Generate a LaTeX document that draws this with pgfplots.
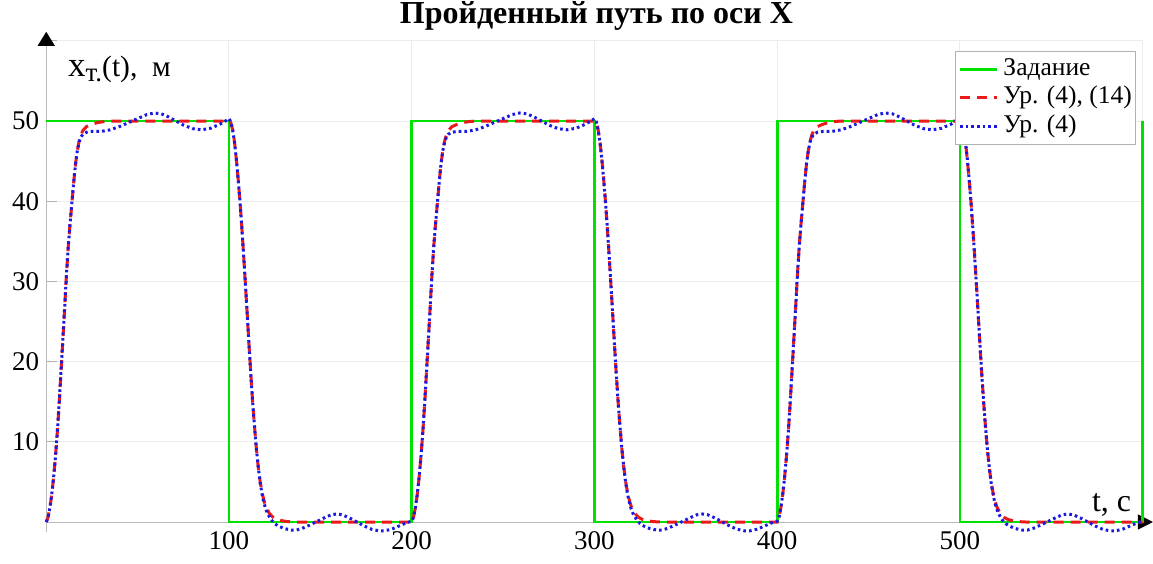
\documentclass[border=0pt]{standalone}
\usepackage{fontspec}
\setmainfont{Liberation Serif}
\usepackage{pgfplots}
\pgfplotsset{compat=1.18}
\usetikzlibrary{arrows.meta}

\definecolor{setgreen}{RGB}{0,225,0}
\definecolor{eqred}{RGB}{235,25,25}
\definecolor{eqblue}{RGB}{25,25,225}

\begin{document}
\begin{tikzpicture}
\begin{axis}[
  at={(46.25pt,41pt)}, anchor=south west,
  scale only axis, width=1096.5pt, height=481.2pt,
  xmin=0, xmax=600, ymin=0, ymax=60,
  clip=false,
  axis x line=bottom, axis y line=left,
  x axis line style={draw=gray!55, line width=1pt,
    -{Triangle[length=15pt,width=15pt,color=black]}, shorten >=-10.25pt},
  y axis line style={draw=gray!55, line width=1pt,
    -{Triangle[length=14pt,width=17pt,color=black]}, shorten >=-9pt, shorten <=-10pt},
  grid=major,
  major grid style={draw=gray!15, line width=1pt},
  tick align=inside,
  major tick length=11pt,
  tick style={draw=gray!60, line width=1pt},
  xtick={100,200,300,400,500,600},
  xticklabels={100,200,300,400,500,{}},
  ytick={10,20,30,40,50,60},
  yticklabels={10,20,30,40,50,{}},
  /pgf/number format/assume math mode=true,
  ticklabel style={font=\fontsize{27}{27}\selectfont},
  yticklabel style={xshift=-3.5pt},
  xticklabel style={yshift=-6.5pt},
  title={Пройденный путь по оси X},
  title style={at={(0.5,1)}, anchor=base, yshift=11.8pt, xshift=2pt,
    font=\bfseries\fontsize{32}{32}\selectfont},
  xlabel={t, с},
  every axis x label/.style={at={(axis cs:572.2,1.25)}, anchor=base west,
    inner sep=0pt, font=\fontsize{32}{32}\selectfont},
  ylabel={{\fontsize{35}{35}\selectfont x}\raisebox{-5.7pt}{\fontsize{27}{27}\selectfont т.}(t),\ \ м},
  every axis y label/.style={at={(axis cs:11.9,55.6)}, anchor=base west,
    inner sep=0pt, font=\fontsize{29.5}{29.5}\selectfont},
  legend style={at={(0.8288,0.9794)}, anchor=north west,
    draw=gray!60, line width=1pt, fill=white,
    font=\fontsize{25.5}{25.5}\selectfont, inner xsep=3pt, inner ysep=5pt,
    row sep=2.5pt,
    nodes={inner xsep=0.5pt, inner ysep=1pt, text height=18pt, text depth=6pt}},
  legend cell align=left,
  legend image code/.code={\draw[#1] (0pt,0pt) -- (37pt,0pt); \path (41.5pt,0pt);},
]

% set point (step signal)
\addplot[setgreen, line width=2.6pt] coordinates {
  (0,50)(100,50)(100,0)(200,0)(200,50)(300,50)(300,0)(400,0)(400,50)(500,50)(500,0)(600,0)(600,50)
};
\addlegendentry{Задание}

% response, equations (4) and (14)
\addplot[eqred, line width=3pt, dash pattern=on 10pt off 7pt] coordinates {
  (0,0)(1,0.6)(2,1.8)(3,3.4)(4,5.5)(5,8.0)(6,11.0)(7,14.5)(8,18.4)(9,22.4)(10,26.4)(11,30.6)(12,34.2)(13,37.1)(14,39.7)(15,42.3)(16,44.6)(17,46.3)(18,47.5)(19,48.3)(20,48.8)(22,49.3)(25,49.6)(28,49.8)(32,49.95)(36,50)(100,50)
  (101,49.8)(102,48.9)(103,47.4)(104,45.3)(105,42.8)(106,40.0)(107,36.8)(108,33.3)(109,29.6)(110,25.8)(111,21.9)(112,18.2)(113,14.8)(114,11.8)(115,9.1)(116,6.9)(117,5.1)(118,3.8)(119,2.8)(120,2.0)(122,1.1)(124,0.6)(126,0.35)(128,0.2)(132,0.05)(136,0)(200,0)
  (201,0.6)(202,1.8)(203,3.4)(204,5.5)(205,8.0)(206,11.0)(207,14.5)(208,18.4)(209,22.4)(210,26.4)(211,30.6)(212,34.2)(213,37.1)(214,39.7)(215,42.3)(216,44.6)(217,46.3)(218,47.5)(219,48.3)(220,48.8)(222,49.3)(225,49.6)(228,49.8)(232,49.95)(236,50)(300,50)
  (301,49.8)(302,48.9)(303,47.4)(304,45.3)(305,42.8)(306,40.0)(307,36.8)(308,33.3)(309,29.6)(310,25.8)(311,21.9)(312,18.2)(313,14.8)(314,11.8)(315,9.1)(316,6.9)(317,5.1)(318,3.8)(319,2.8)(320,2.0)(322,1.1)(324,0.6)(326,0.35)(328,0.2)(332,0.05)(336,0)(400,0)
  (401,0.6)(402,1.8)(403,3.4)(404,5.5)(405,8.0)(406,11.0)(407,14.5)(408,18.4)(409,22.4)(410,26.4)(411,30.6)(412,34.2)(413,37.1)(414,39.7)(415,42.3)(416,44.6)(417,46.3)(418,47.5)(419,48.3)(420,48.8)(422,49.3)(425,49.6)(428,49.8)(432,49.95)(436,50)(500,50)
  (501,49.8)(502,48.9)(503,47.4)(504,45.3)(505,42.8)(506,40.0)(507,36.8)(508,33.3)(509,29.6)(510,25.8)(511,21.9)(512,18.2)(513,14.8)(514,11.8)(515,9.1)(516,6.9)(517,5.1)(518,3.8)(519,2.8)(520,2.0)(522,1.1)(524,0.6)(526,0.35)(528,0.2)(532,0.05)(536,0)(600,0)
};
\addlegendentry{Ур. (4), (14)}

% response, equation (4) only
\addplot[eqblue, line width=3pt, dash pattern=on 2.6pt off 3.1pt] coordinates {
  (0,0)(1,0.6)(2,1.8)(3,3.4)(4,5.5)(5,8.0)(6,11.0)(7,14.5)(8,18.4)(9,22.4)(10,26.4)(11,30.6)(12,34.2)(13,37.1)(14,39.7)(15,42.3)(16,44.6)(17,46.3)(18,47.4)(19,48.0)(20,48.35)(22,48.6)(25,48.7)(30,48.7)(35,48.9)(40,49.3)(45,49.8)(50,50.3)(55,50.8)(59,51.0)(63,50.9)(67,50.5)(71,50.0)(75,49.5)(80,49.05)(85,48.9)(90,49.1)(95,49.6)(98,50.0)(100,50.3)
  (101,49.9)(102,48.9)(103,47.4)(104,45.3)(105,42.8)(106,40.0)(107,36.8)(108,33.3)(109,29.6)(110,25.8)(111,21.9)(112,18.2)(113,14.8)(114,11.8)(115,9.1)(116,6.9)(117,5.0)(118,3.6)(119,2.5)(120,1.7)(121,1.1)(123,0.3)(125,-0.2)(127,-0.5)(130,-0.8)(134,-1.0)(137,-1.0)(140,-0.8)(144,-0.4)(148,0.05)(152,0.5)(156,0.9)(159,1.0)(162,0.9)(166,0.5)(170,0.0)(174,-0.5)(178,-0.9)(182,-1.1)(185,-1.1)(189,-0.9)(193,-0.5)(197,-0.1)(200,0.1)
  (201,0.6)(202,1.8)(203,3.4)(204,5.5)(205,8.0)(206,11.0)(207,14.5)(208,18.4)(209,22.4)(210,26.4)(211,30.6)(212,34.2)(213,37.1)(214,39.7)(215,42.3)(216,44.6)(217,46.3)(218,47.4)(219,48.0)(220,48.35)(222,48.6)(225,48.7)(230,48.7)(235,48.9)(240,49.3)(245,49.8)(250,50.3)(255,50.8)(259,51.0)(263,50.9)(267,50.5)(271,50.0)(275,49.5)(280,49.05)(285,48.9)(290,49.1)(295,49.6)(298,50.0)(300,50.3)
  (301,49.9)(302,48.9)(303,47.4)(304,45.3)(305,42.8)(306,40.0)(307,36.8)(308,33.3)(309,29.6)(310,25.8)(311,21.9)(312,18.2)(313,14.8)(314,11.8)(315,9.1)(316,6.9)(317,5.0)(318,3.6)(319,2.5)(320,1.7)(321,1.1)(323,0.3)(325,-0.2)(327,-0.5)(330,-0.8)(334,-1.0)(337,-1.0)(340,-0.8)(344,-0.4)(348,0.05)(352,0.5)(356,0.9)(359,1.0)(362,0.9)(366,0.5)(370,0.0)(374,-0.5)(378,-0.9)(382,-1.1)(385,-1.1)(389,-0.9)(393,-0.5)(397,-0.1)(400,0.1)
  (401,0.6)(402,1.8)(403,3.4)(404,5.5)(405,8.0)(406,11.0)(407,14.5)(408,18.4)(409,22.4)(410,26.4)(411,30.6)(412,34.2)(413,37.1)(414,39.7)(415,42.3)(416,44.6)(417,46.3)(418,47.4)(419,48.0)(420,48.35)(422,48.6)(425,48.7)(430,48.7)(435,48.9)(440,49.3)(445,49.8)(450,50.3)(455,50.8)(459,51.0)(463,50.9)(467,50.5)(471,50.0)(475,49.5)(480,49.05)(485,48.9)(490,49.1)(495,49.6)(498,50.0)(500,50.3)
  (501,49.9)(502,48.9)(503,47.4)(504,45.3)(505,42.8)(506,40.0)(507,36.8)(508,33.3)(509,29.6)(510,25.8)(511,21.9)(512,18.2)(513,14.8)(514,11.8)(515,9.1)(516,6.9)(517,5.0)(518,3.6)(519,2.5)(520,1.7)(521,1.1)(523,0.3)(525,-0.2)(527,-0.5)(530,-0.8)(534,-1.0)(537,-1.0)(540,-0.8)(544,-0.4)(548,0.05)(552,0.5)(556,0.9)(559,1.0)(562,0.9)(566,0.5)(570,0.0)(574,-0.5)(578,-0.9)(582,-1.1)(585,-1.1)(589,-0.9)(593,-0.5)(597,-0.1)(600,0.1)
};
\addlegendentry{Ур. (4)}

\end{axis}
\pgfresetboundingbox
\path (0,0) rectangle (1153pt,563pt);
\end{tikzpicture}
\end{document}
